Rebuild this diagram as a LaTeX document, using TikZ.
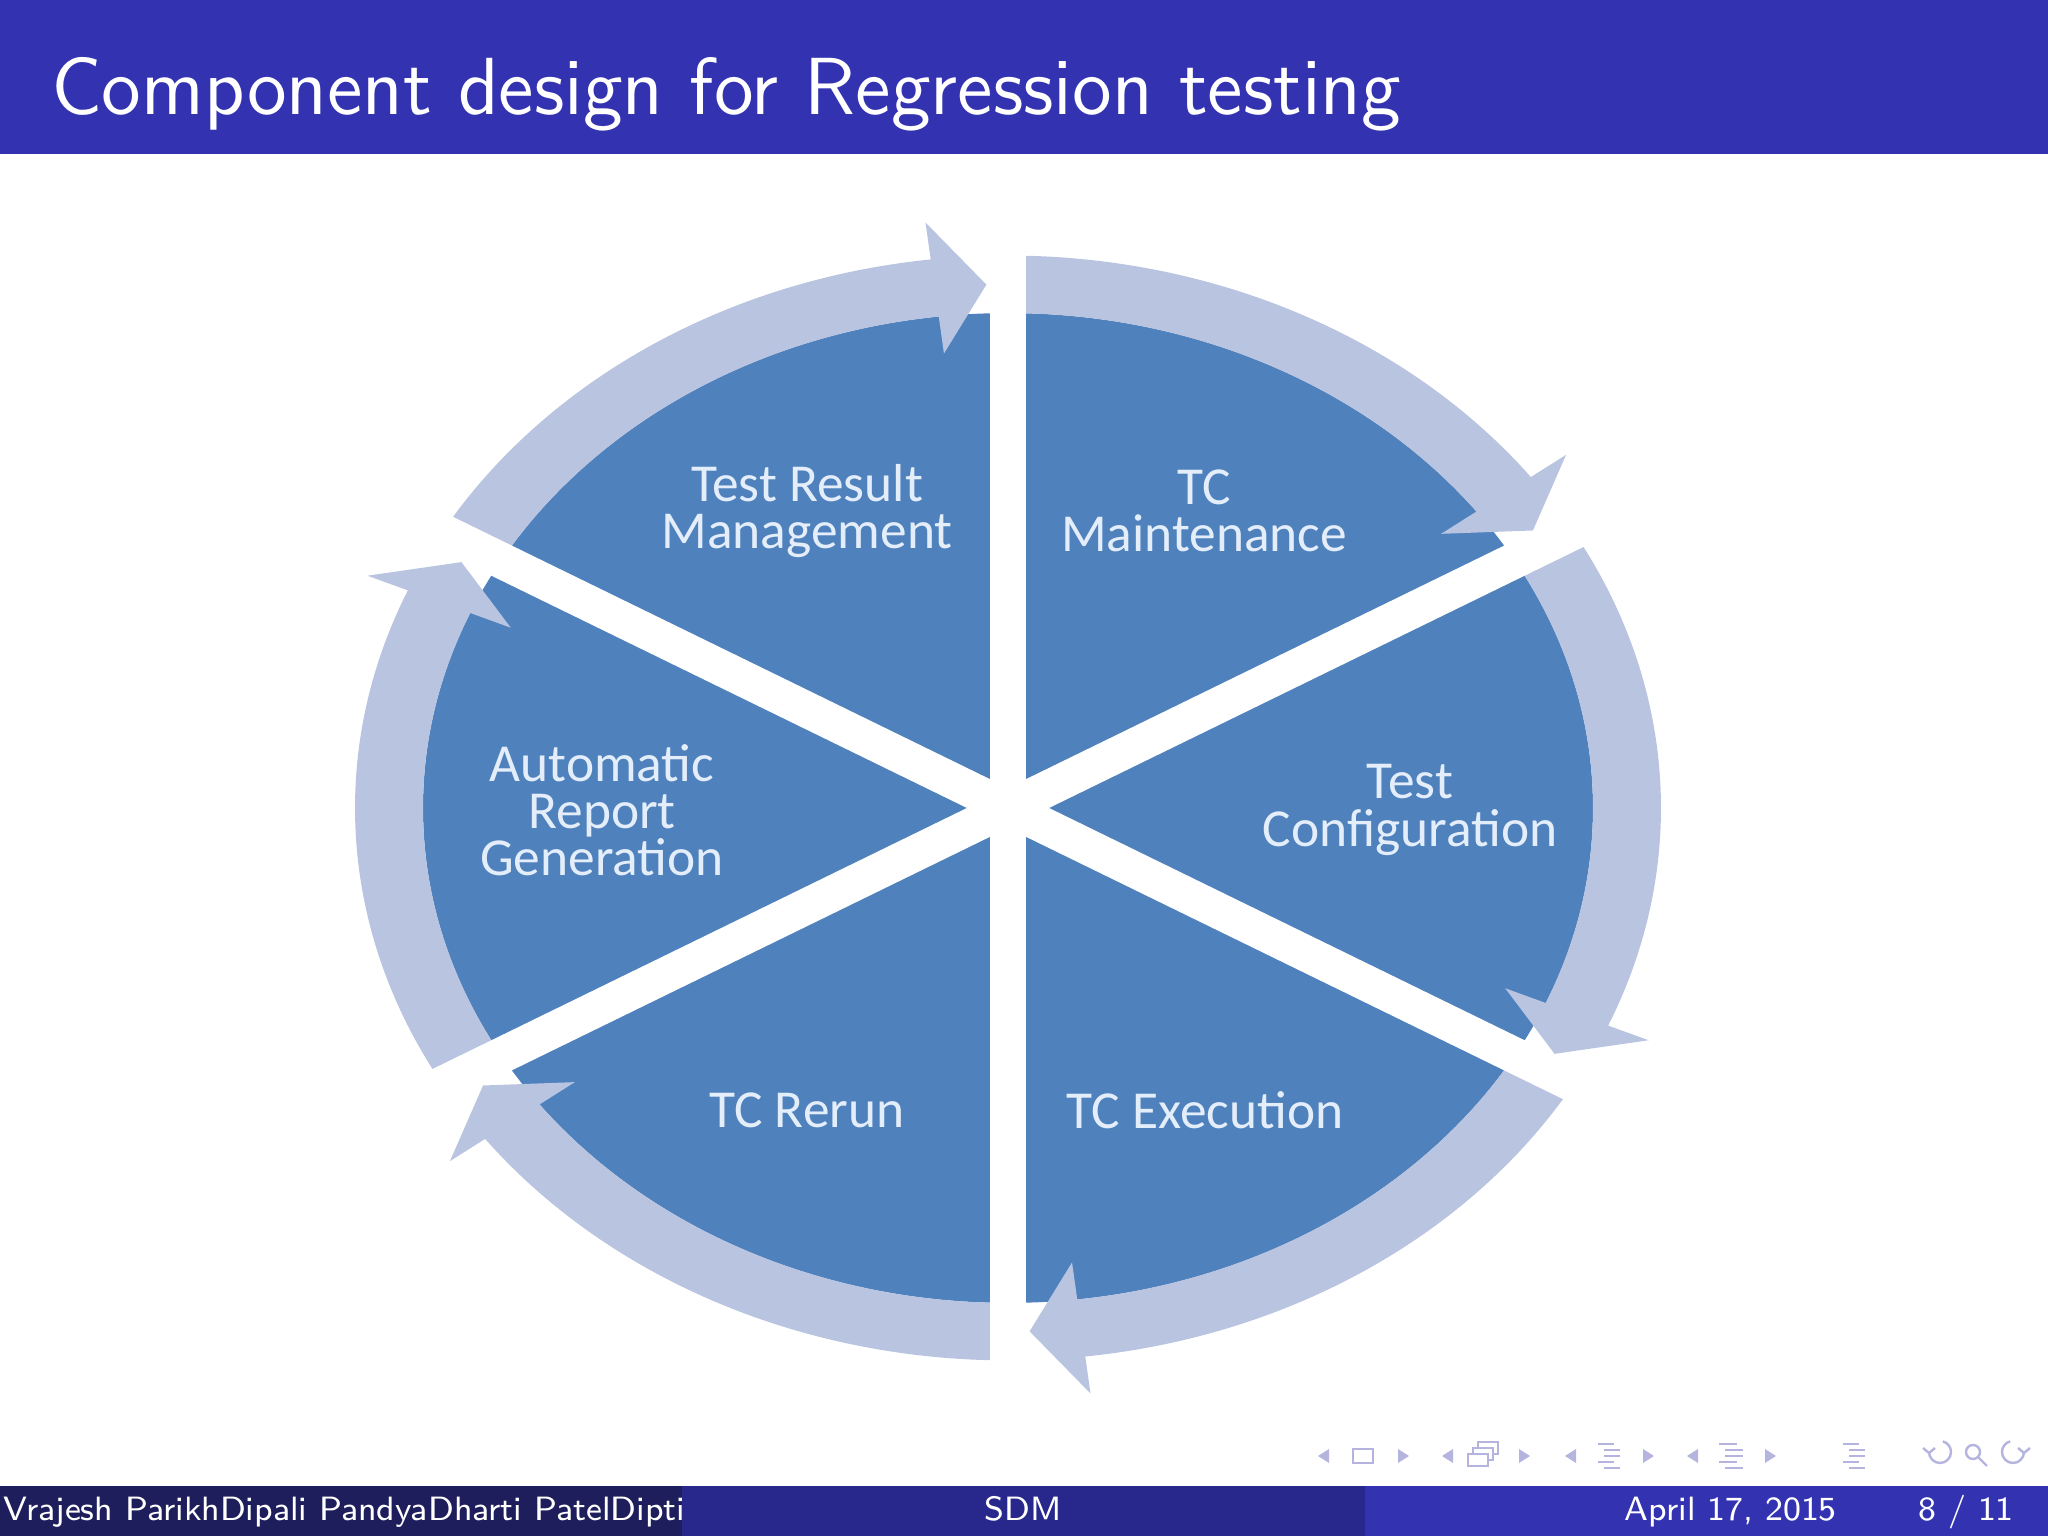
\documentclass[tikz,border=0pt]{standalone}
\usepackage{fontspec}
\newfontfamily\labelfont{Carlito}
\usetikzlibrary{calc}

\definecolor{titleblue}{RGB}{51,51,178}
\definecolor{footdark}{RGB}{30,30,92}
\definecolor{footmid}{RGB}{40,40,140}
\definecolor{sectorblue}{RGB}{79,129,189}
\definecolor{ringlight}{RGB}{185,196,224}
\definecolor{labeltext}{RGB}{228,238,250}
\definecolor{navgray}{RGB}{180,180,222}

\tikzset{
  ringarrow/.style={fill=ringlight},
  gapline/.style={draw=white,line width=2.25mm},
  steplabel/.style={align=center,text=labeltext,inner sep=0pt,font=\labelfont\fontsize{9.5}{8.4}\selectfont},
  foottext/.style={text=white,inner sep=0pt,font=\sffamily\fontsize{6}{7}\selectfont},
  navsym/.style={fill=navgray},
  navline/.style={draw=navgray,line width=0.15mm}
}

\begin{document}
\begin{tikzpicture}[x=0.0625mm,y=0.0625mm]
\useasboundingbox (0,0) rectangle (2048,1536);

% title bar
\fill[titleblue] (0,1382) rectangle (2048,1536);
\node[anchor=base west,text=white,inner sep=0pt,font=\sffamily\fontsize{14.4}{17}\selectfont] (title) at (50,1421) {Component design for Regression testing};

\coordinate (C) at (1008,728);

\begin{scope}[shift={(C)},yscale=0.846]
\fill[sectorblue] (0,0) circle[radius=585];

\fill[ringarrow] (150:653) arc[start angle=150,end angle=96.8,radius=653] -- (96.8:697) -- (92:619) -- (96.8:541) -- (96.8:585) arc[start angle=96.8,end angle=150,radius=585] -- cycle;
\fill[ringarrow] (90:653) arc[start angle=90,end angle=36.8,radius=653] -- (36.8:697) -- (32:619) -- (36.8:541) -- (36.8:585) arc[start angle=36.8,end angle=90,radius=585] -- cycle;
\fill[ringarrow] (30:653) arc[start angle=30,end angle=-23.2,radius=653] -- (-23.2:697) -- (-28:619) -- (-23.2:541) -- (-23.2:585) arc[start angle=-23.2,end angle=30,radius=585] -- cycle;
\fill[ringarrow] (-30:653) arc[start angle=-30,end angle=-83.2,radius=653] -- (-83.2:697) -- (-88:619) -- (-83.2:541) -- (-83.2:585) arc[start angle=-83.2,end angle=-30,radius=585] -- cycle;
\fill[ringarrow] (-90:653) arc[start angle=-90,end angle=-143.2,radius=653] -- (-143.2:697) -- (-148:619) -- (-143.2:541) -- (-143.2:585) arc[start angle=-143.2,end angle=-90,radius=585] -- cycle;
\fill[ringarrow] (-150:653) arc[start angle=-150,end angle=-203.2,radius=653] -- (-203.2:697) -- (-208:619) -- (-203.2:541) -- (-203.2:585) arc[start angle=-203.2,end angle=-150,radius=585] -- cycle;

% white gaps between the sectors
\draw[gapline] (90:760) -- (-90:760);
\draw[gapline] (30:760) -- (210:760);
\draw[gapline] (-30:760) -- (150:760);
\end{scope}

\node[steplabel] (result) at (807,1025) {Test Result\\Management};
\node[steplabel] (maint) at (1204,1025) {TC\\Maintenance};
\node[steplabel] (report) at (602,726) {Automatic\\Report\\Generation};
\node[steplabel] (config) at (1410,726) {Test\\Configuration};
\node[steplabel] (rerun) at (807,426) {TC Rerun};
\node[steplabel] (exec) at (1205,426) {TC Execution};

% navigation symbols
\fill[navsym] (1318,80) -- (1329,87) -- (1329,73) -- cycle;
\draw[navline] (1353,73) rectangle (1373,87);
\fill[navsym] (1409,80) -- (1398,87) -- (1398,73) -- cycle;
\fill[navsym] (1442,80) -- (1453,87) -- (1453,73) -- cycle;
\draw[navline,fill=white] (1478,82) rectangle (1498,94);
\draw[navline,fill=white] (1473,76) rectangle (1493,88);
\draw[navline,fill=white] (1468,70) rectangle (1488,82);
\fill[navsym] (1530,80) -- (1519,87) -- (1519,73) -- cycle;
\fill[navsym] (1565,80) -- (1576,87) -- (1576,73) -- cycle;
\draw[navline] (1598,92) -- (1614,92) (1604,86) -- (1620,86) (1604,80) -- (1620,80) (1598,74) -- (1614,74) (1604,68) -- (1620,68);
\fill[navsym] (1654,80) -- (1643,87) -- (1643,73) -- cycle;
\fill[navsym] (1687,80) -- (1698,87) -- (1698,73) -- cycle;
\draw[navline] (1719,92) -- (1737,92) (1725,86) -- (1743,86) (1725,80) -- (1743,80) (1719,74) -- (1737,74) (1725,68) -- (1743,68);
\fill[navsym] (1776,80) -- (1765,87) -- (1765,73) -- cycle;
\draw[navline] (1843,92) -- (1859,92) (1849,86) -- (1865,86) (1849,80) -- (1865,80) (1843,74) -- (1859,74) (1849,68) -- (1865,68);
\draw[navline] (1929,84) arc[start angle=180,end angle=435,radius=11];
\draw[navline] (1923,88) -- (1929,83) -- (1935,88);
\draw[navline] (1973,84) circle[radius=7] (1978,79) -- (1987,70);
\draw[navline] (2024,84) arc[start angle=0,end angle=-255,radius=11];
\draw[navline] (2018,88) -- (2024,83) -- (2030,88);

% footline
\fill[footdark] (0,0) rectangle (682,50);
\fill[footmid] (682,0) rectangle (1365,50);
\fill[titleblue] (1365,0) rectangle (2048,50);
\node[foottext,anchor=base west] (authors) at (2,15) {Vrajesh ParikhDipali PandyaDharti PatelDipti};
\node[foottext,anchor=base] (short) at (1023,15) {SDM};
\node[foottext,anchor=base east] (date) at (1838,15) {April 17, 2015};
\node[foottext,anchor=base east] (page) at (2015,15) {8 / 11};
\end{tikzpicture}
\end{document}
